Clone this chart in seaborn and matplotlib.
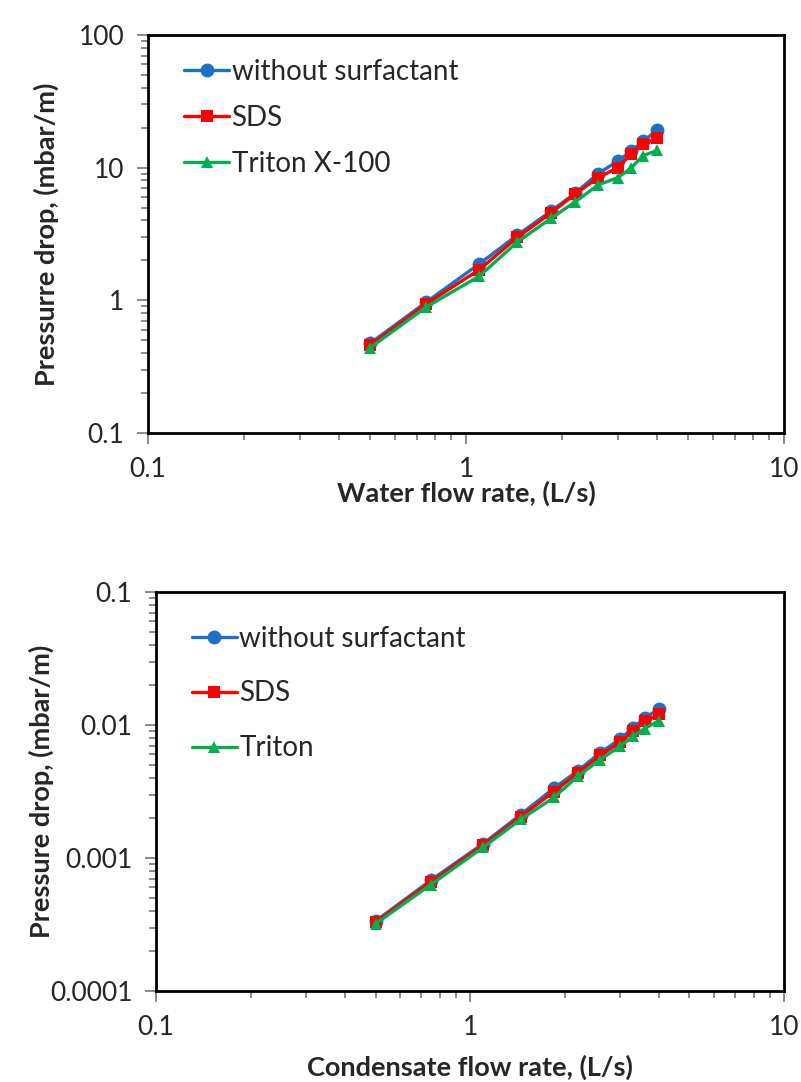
import numpy as np
import pandas as pd
import matplotlib.pyplot as plt
import matplotlib.ticker as mticker
import seaborn as sns

# flow rates (L/s), same for both panels
flow = [0.5, 0.75, 1.1, 1.45, 1.85, 2.2, 2.6, 3.0, 3.3, 3.6, 4.0]

# top panel: water (mbar/m)
water_none = [0.475, 0.97, 1.88, 3.1, 4.7, 6.4, 9.0, 11.2, 13.3, 15.8, 19.2]
water_sds = [0.46, 0.94, 1.70, 2.98, 4.55, 6.3, 8.4, 10.0, 12.6, 15.0, 16.8]
water_triton = [0.44, 0.89, 1.52, 2.75, 4.15, 5.5, 7.4, 8.4, 9.9, 12.3, 13.5]

# bottom panel: condensate (mbar/m)
cond_none = [3.35e-4, 6.8e-4, 1.28e-3, 2.12e-3, 3.35e-3, 4.5e-3, 6.2e-3, 7.8e-3, 9.5e-3, 1.13e-2, 1.32e-2]
cond_sds = [3.3e-4, 6.6e-4, 1.25e-3, 2.05e-3, 3.15e-3, 4.35e-3, 5.9e-3, 7.4e-3, 9.0e-3, 1.07e-2, 1.2e-2]
cond_triton = [3.2e-4, 6.3e-4, 1.2e-3, 1.95e-3, 2.85e-3, 4.1e-3, 5.5e-3, 6.9e-3, 8.2e-3, 9.4e-3, 1.08e-2]

top_labels = ["without surfactant", "SDS", "Triton X-100"]
bottom_labels = ["without surfactant", "SDS", "Triton"]

colors = ["#1F6FC5", "#FF0000", "#00B050"]
markers = ["o", "s", "^"]
msizes = [10, 8, 9]

sns.set_style("white")
plt.rcParams["font.family"] = ["Lato", "DejaVu Sans"]

fig = plt.figure(figsize=(8.01, 10.82), dpi=100)
ax1 = fig.add_axes([0.1848, 0.5998, 0.7940, 0.3679])
ax2 = fig.add_axes([0.1948, 0.0841, 0.7840, 0.3688])

fmt = mticker.FuncFormatter(lambda v, p: f"{v:g}")


def draw_panel(ax, series, labels, ylim, xlabel, ylabel, leg_spacing, leg_y,
               xlab_y, ylab_x):
    for vals, lab, c, m, ms in zip(series, labels, colors, markers, msizes):
        sns.lineplot(x=flow, y=vals, ax=ax, color=c, marker=m, markersize=ms,
                     markeredgewidth=0, linewidth=2.4, label=lab)
    ax.set_xscale("log")
    ax.set_yscale("log")
    ax.set_xlim(0.1, 10)
    ax.set_ylim(*ylim)
    ax.xaxis.set_major_formatter(fmt)
    ax.yaxis.set_major_formatter(fmt)
    ax.xaxis.set_minor_formatter(mticker.NullFormatter())
    ax.yaxis.set_minor_formatter(mticker.NullFormatter())
    ax.yaxis.set_major_locator(mticker.LogLocator(base=10, numticks=10))
    ax.yaxis.set_minor_locator(mticker.LogLocator(base=10, subs=np.arange(2, 10), numticks=10))
    ax.tick_params(which="both", direction="out", left=True, bottom=True,
                   color="#777777", width=1.2, labelsize=19, pad=9)
    ax.tick_params(which="major", length=8)
    ax.tick_params(which="minor", length=5)
    for s in ax.spines.values():
        s.set_color("black")
        s.set_linewidth(2)
    ax.set_xlabel(xlabel, fontsize=19.5, fontweight="bold")
    ax.set_ylabel(ylabel, fontsize=19.5, fontweight="bold")
    ax.xaxis.set_label_coords(0.5, xlab_y)
    ax.yaxis.set_label_coords(ylab_x, 0.5)
    ax.legend(loc="upper left", frameon=False, fontsize=20, handlelength=1.6,
              handletextpad=0.1, labelspacing=leg_spacing,
              bbox_to_anchor=(0.02, leg_y), borderaxespad=0.45)


draw_panel(ax1, [water_none, water_sds, water_triton], top_labels, (0.1, 100),
           "Water flow rate, (L/s)", "Pressurre drop, (mbar/m)", 0.73, 1.0,
           -0.12, -0.14)
draw_panel(ax2, [cond_none, cond_sds, cond_triton], bottom_labels, (0.0001, 0.1),
           "Condensate flow rate, (L/s)", "Pressure drop, (mbar/m)", 1.04, 0.975,
           -0.16, -0.163)

fig.savefig("out.png", dpi=100, facecolor="white")
